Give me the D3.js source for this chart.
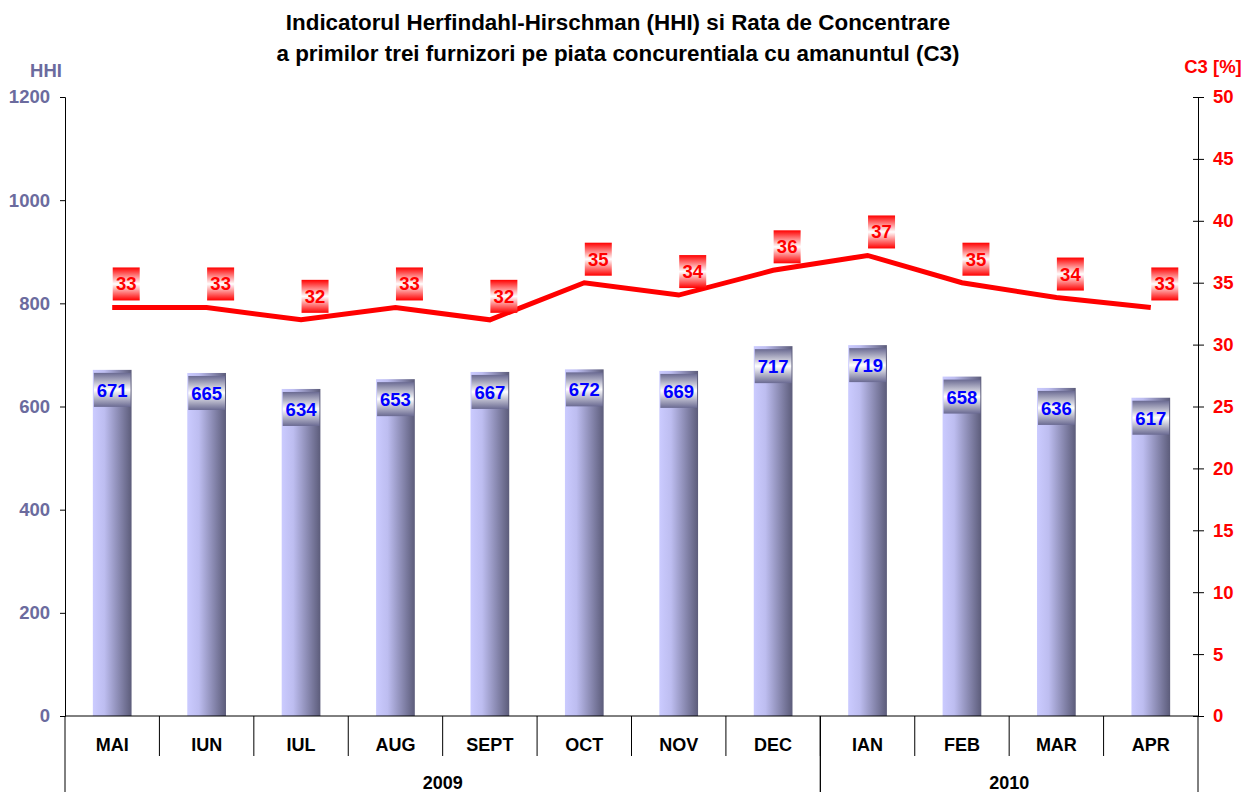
<!DOCTYPE html>
<meta charset="utf-8">
<html lang="ro">
<head>
  <title>HHI si C3</title>
  <script src="https://d3js.org/d3.v7.min.js"></script>
  <style>
    body { margin: 0; background: #fff; }
    text { font-family: "Liberation Sans", Arial, sans-serif; font-weight: bold; }
  </style>
</head>
<body>
<div id="chart"></div>
<script>
  // data
  var months = ["MAI", "IUN", "IUL", "AUG", "SEPT", "OCT", "NOV", "DEC", "IAN", "FEB", "MAR", "APR"];
  var years = [{ label: "2009", from: "MAI", to: "DEC" }, { label: "2010", from: "IAN", to: "APR" }];
  var hhi = [671, 665, 634, 653, 667, 672, 669, 717, 719, 658, 636, 617];
  var c3 = [33, 33, 32, 33, 32, 35, 34, 36, 37.2, 35, 33.8, 33];
  var hhiTicks = [0, 200, 400, 600, 800, 1000, 1200];
  var c3Ticks = [0, 5, 10, 15, 20, 25, 30, 35, 40, 45, 50];
  var titleLines = ["Indicatorul Herfindahl-Hirschman (HHI) si Rata de Concentrare",
                    "a primilor trei furnizori pe piata concurentiala cu amanuntul (C3)"];

  var W = 1243, H = 792;
  var margin = { top: 97, right: 45, bottom: 76, left: 65 };
  var width = W - margin.left - margin.right,
      height = H - margin.top - margin.bottom;

  var svg = d3.select("#chart").append("svg")
      .attr("width", W).attr("height", H);

  var defs = svg.append("defs");
  var gBar = defs.append("linearGradient").attr("id", "barGrad")
      .attr("x1", "0").attr("x2", "1").attr("y1", "0").attr("y2", "0");
  gBar.append("stop").attr("offset", "0%").attr("stop-color", "#cbcbff");
  gBar.append("stop").attr("offset", "30%").attr("stop-color", "#bdbdf0");
  gBar.append("stop").attr("offset", "100%").attr("stop-color", "#5c5c7a");

  var gBox = defs.append("linearGradient").attr("id", "boxGrad")
      .attr("x1", "0").attr("x2", "0").attr("y1", "0").attr("y2", "1");
  gBox.append("stop").attr("offset", "0%").attr("stop-color", "#6a6a92");
  gBox.append("stop").attr("offset", "50%").attr("stop-color", "#ffffff");
  gBox.append("stop").attr("offset", "100%").attr("stop-color", "#6a6a92");

  var gRed = defs.append("linearGradient").attr("id", "redGrad")
      .attr("x1", "0").attr("x2", "0").attr("y1", "0").attr("y2", "1");
  gRed.append("stop").attr("offset", "0%").attr("stop-color", "#ff0000");
  gRed.append("stop").attr("offset", "50%").attr("stop-color", "#ffffff");
  gRed.append("stop").attr("offset", "100%").attr("stop-color", "#ff0000");

  var g = svg.append("g")
      .attr("transform", "translate(" + margin.left + "," + margin.top + ")");

  // scales
  var x = d3.scaleBand().domain(months).range([0, width]).paddingInner(0.59).paddingOuter(0.295);
  var xc = function (m) { return x(m) + x.bandwidth() / 2; };
  var band = width / months.length;
  var y = d3.scaleLinear().domain([0, 1200]).range([height, 0]);
  var y2 = d3.scaleLinear().domain([0, 50]).range([height, 0]);

  // title
  svg.selectAll(".title").data(titleLines).enter().append("text")
      .attr("x", 618).attr("y", function (d, i) { return 30 + i * 31; })
      .attr("text-anchor", "middle").style("font-size", "22.4px").attr("fill", "#000")
      .text(function (d) { return d; });

  // left axis
  var yAxis = g.append("g")
      .call(d3.axisLeft(y).tickValues(hhiTicks).tickFormat(d3.format("d")).tickSize(5).tickPadding(10));
  yAxis.select(".domain").attr("stroke", "#000");
  yAxis.selectAll("text").style("font-size", "18.5px").attr("fill", "#6b6b9e");
  svg.append("text").attr("x", 46).attr("y", 77).attr("text-anchor", "middle")
      .style("font-size", "18.5px").attr("fill", "#6b6b9e").text("HHI");

  // right axis
  var y2Axis = g.append("g").attr("transform", "translate(" + width + ",0)")
      .call(d3.axisRight(y2).tickValues(c3Ticks).tickSize(6).tickPadding(9));
  y2Axis.select(".domain").attr("stroke", "#000");
  y2Axis.selectAll(".tick line").attr("x1", -5);
  y2Axis.selectAll("text").style("font-size", "18.5px").attr("fill", "#ff0000");
  svg.append("text").attr("x", 1213).attr("y", 73).attr("text-anchor", "middle")
      .style("font-size", "18.5px").attr("fill", "#ff0000").text("C3 [%]");

  // bars
  g.selectAll(".bar").data(hhi).enter().append("rect")
      .attr("x", function (d, i) { return x(months[i]); })
      .attr("y", function (d) { return y(d); })
      .attr("width", x.bandwidth())
      .attr("height", function (d) { return height - y(d); })
      .attr("fill", "url(#barGrad)");

  // bar labels
  var bl = g.selectAll(".blab").data(hhi).enter().append("g")
      .attr("transform", function (d, i) { return "translate(" + xc(months[i]) + "," + (y(d) + 3) + ")"; });
  bl.append("rect").attr("x", -x.bandwidth() / 2 + 1).attr("y", 0)
      .attr("width", x.bandwidth() - 2).attr("height", 34).attr("fill", "url(#boxGrad)");
  bl.append("text").attr("y", 24).attr("text-anchor", "middle")
      .style("font-size", "18.5px").attr("fill", "#0000ff")
      .text(function (d) { return d; });

  // baseline
  g.append("line").attr("x1", 0).attr("x2", width).attr("y1", height).attr("y2", height)
      .attr("stroke", "#000");

  // C3 line
  var line = d3.line()
      .x(function (d, i) { return xc(months[i]); })
      .y(function (d) { return y2(d); });
  g.append("path").datum(c3).attr("d", line)
      .attr("fill", "none").attr("stroke", "#ff0000").attr("stroke-width", 5);

  // C3 labels
  var cl = g.selectAll(".clab").data(c3).enter().append("g")
      .attr("transform", function (d, i) { return "translate(" + (xc(months[i]) + 14) + "," + (y2(d) - 40) + ")"; });
  cl.append("rect").attr("x", -13.5).attr("y", 0).attr("width", 27).attr("height", 33)
      .attr("fill", "url(#redGrad)");
  cl.append("text").attr("y", 23).attr("text-anchor", "middle")
      .style("font-size", "18.5px").attr("fill", "#ff0000")
      .text(function (d) { return Math.round(d); });

  // category axis: month separators and labels
  var cat = g.append("g").attr("transform", "translate(0," + height + ")");
  cat.selectAll(".sep").data(d3.range(1, months.length)).enter().append("line")
      .attr("x1", function (i) { return i * band; }).attr("x2", function (i) { return i * band; })
      .attr("y1", 0).attr("y2", 40).attr("stroke", "#000");
  cat.selectAll(".mlab").data(months).enter().append("text")
      .attr("x", function (m) { return xc(m); }).attr("y", 35)
      .attr("text-anchor", "middle").style("font-size", "18px").attr("fill", "#000")
      .text(function (d) { return d; });

  // year groups
  years.forEach(function (yr) {
    var i0 = months.indexOf(yr.from), i1 = months.indexOf(yr.to) + 1;
    cat.append("line").attr("x1", i0 * band).attr("x2", i0 * band)
        .attr("y1", 0).attr("y2", margin.bottom).attr("stroke", "#000");
    cat.append("line").attr("x1", i1 * band).attr("x2", i1 * band)
        .attr("y1", 0).attr("y2", margin.bottom).attr("stroke", "#000");
    cat.append("text").attr("x", (i0 + i1) / 2 * band).attr("y", 73)
        .attr("text-anchor", "middle").style("font-size", "18px").attr("fill", "#000")
        .text(yr.label);
  });
</script>
</body>
</html>
